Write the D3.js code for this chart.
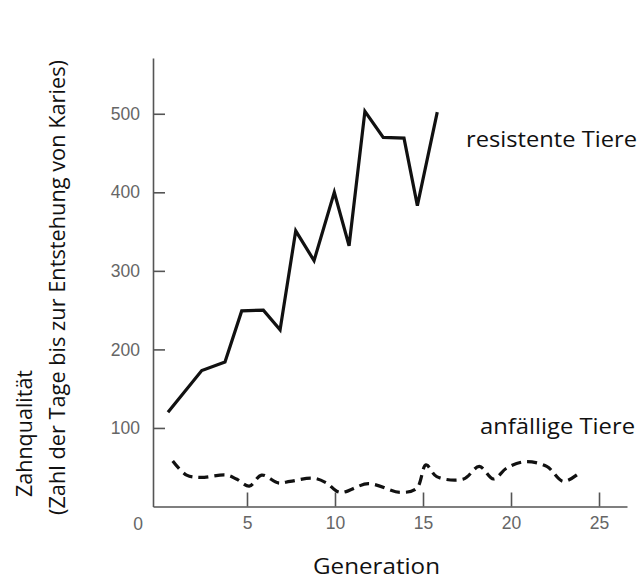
<!DOCTYPE html>
<html><head><meta charset="utf-8">
<script src="https://cdn.jsdelivr.net/npm/d3@7"></script>
<style>
body{margin:0;background:#fff;}
svg{display:block;}
</style></head>
<body>
<svg id="c" width="642" height="581"></svg>
<script>
// Resistant animals (solid line): generation, days
const resistGen  = [0.51, 2.43, 3.75, 4.70, 5.93, 6.88, 7.77, 8.81, 9.96, 10.80, 11.70, 12.74, 13.92, 14.68, 15.81];
const resistDays = [120, 173, 184, 249, 250, 225, 351, 313, 400, 332, 503, 470, 469, 383, 502];
// Susceptible animals (dashed line)
const suscGen  = [0.78, 1.57, 2.33, 3.84, 4.40, 5.13, 5.83, 6.78, 7.45, 8.77, 9.52, 10.28, 11.90, 13.70, 14.64, 15.17, 15.78, 17.30, 18.20, 19.00, 19.76, 20.80, 22.03, 22.97, 23.90];
const suscDays = [58, 40, 37, 40, 35, 26, 40, 30, 32, 36, 30, 18, 29, 18, 23, 53, 38, 35, 51, 35, 49, 57, 51, 32, 43];
const xTicks = [5, 10, 15, 20, 25];
const yTicks = [100, 200, 300, 400, 500];
const labelResist = "resistente Tiere";
const labelSusc = "anfällige Tiere";
const xTitle = "Generation";
const yTitle1 = "Zahnqualität";
const yTitle2 = "(Zahl der Tage bis zur Entstehung von Karies)";

const svg = d3.select("#c");
const x = d3.scaleLinear().domain([-0.34, 26.59]).range([153, 627]);
const y = d3.scaleLinear().domain([0, 571]).range([506.5, 58]);
const axisCol = "#555";
const lab = "'Liberation Sans', Arial, sans-serif";
const big = "'Open Sans', Lato, sans-serif";

// Y axis
const ya = svg.append("g").attr("transform", `translate(${x.range()[0]},0)`)
  .call(d3.axisLeft(y).tickValues(yTicks).tickSizeInner(-12).tickSizeOuter(0).tickPadding(13).tickFormat(d3.format("d")));
// X axis
const xa = svg.append("g").attr("transform", `translate(0,${y(0)})`)
  .call(d3.axisBottom(x).tickValues(xTicks).tickSizeInner(-14).tickSizeOuter(0).tickPadding(10).tickFormat(d3.format("d")));
[ya, xa].forEach(g => {
  g.select(".domain").attr("stroke", axisCol).attr("stroke-width", 1.6);
  g.selectAll(".tick line").attr("stroke", axisCol).attr("stroke-width", 1.6);
  g.selectAll(".tick text").attr("fill", "#666").style("font-family", lab).style("font-size", "17.5px");
});
// origin label
svg.append("text").attr("x", 138).attr("y", y(0) + 23).attr("text-anchor", "middle")
  .attr("fill", "#666").style("font-family", lab).style("font-size", "17.5px").text("0");

// Lines
const solid = d3.line().x((d, i) => x(resistGen[i])).y(d => y(d));
svg.append("path").attr("d", solid(resistDays)).attr("fill", "none")
  .attr("stroke", "#111").attr("stroke-width", 3.2).attr("stroke-linejoin", "miter");
const dashed = d3.line().curve(d3.curveCatmullRom.alpha(0.5)).x((d, i) => x(suscGen[i])).y(d => y(d));
svg.append("path").attr("d", dashed(suscDays)).attr("fill", "none")
  .attr("stroke", "#111").attr("stroke-width", 3.2).attr("stroke-dasharray", "10,6");

// Series labels
svg.append("text").attr("x", 466).attr("y", 147).attr("fill", "#111")
  .attr("textLength", 171).attr("lengthAdjust", "spacingAndGlyphs")
  .style("font-family", big).style("font-size", "22px").text(labelResist);
svg.append("text").attr("x", 480).attr("y", 434).attr("fill", "#111")
  .attr("textLength", 155).attr("lengthAdjust", "spacingAndGlyphs")
  .style("font-family", big).style("font-size", "22px").text(labelSusc);

// Axis titles
svg.append("text").attr("x", 313).attr("y", 574).attr("fill", "#111")
  .attr("textLength", 127).attr("lengthAdjust", "spacingAndGlyphs")
  .style("font-family", big).style("font-size", "22px").text(xTitle);
svg.append("text").attr("transform", "translate(32,497) rotate(-90)").attr("fill", "#111")
  .attr("textLength", 127).attr("lengthAdjust", "spacingAndGlyphs")
  .style("font-family", big).style("font-size", "22px").text(yTitle1);
svg.append("text").attr("transform", "translate(65,515) rotate(-90)").attr("fill", "#111")
  .attr("textLength", 455).attr("lengthAdjust", "spacingAndGlyphs")
  .style("font-family", big).style("font-size", "22px").text(yTitle2);
</script>
</body></html>
